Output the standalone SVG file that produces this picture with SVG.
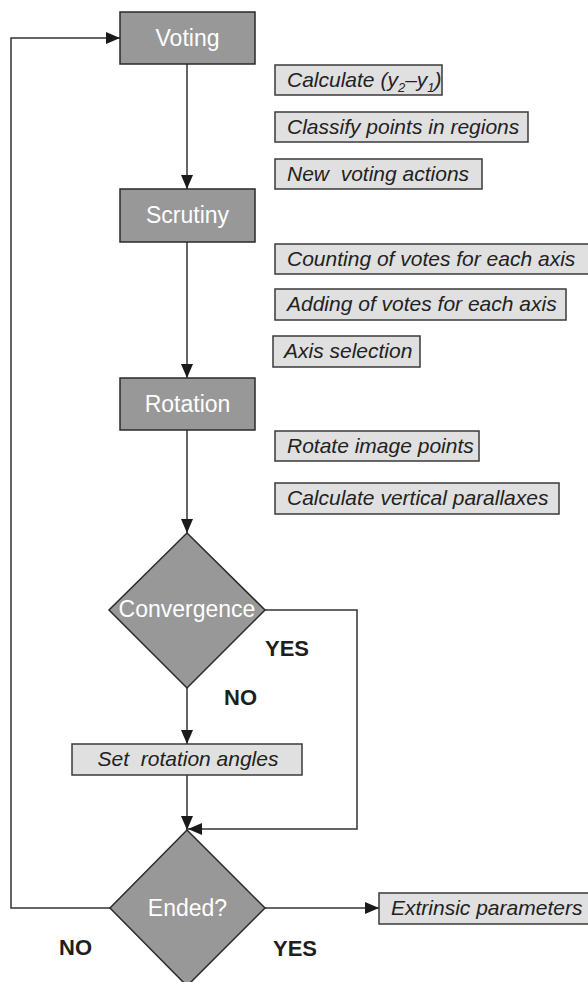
<svg xmlns="http://www.w3.org/2000/svg" width="588" height="982" viewBox="0 0 588 982">
<style>
.step{fill:#989898;stroke:#2a2a2a;stroke-width:1.5}
.stxt{font-family:"Liberation Sans",Arial,sans-serif;font-size:23px;fill:#ffffff;text-anchor:middle}
.lbl{fill:#e0e0e0;stroke:#3a3a3a;stroke-width:1.5}
.ltxt{font-family:"Liberation Sans",Arial,sans-serif;font-size:21px;font-style:italic;fill:#222222}
.yn{font-family:"Liberation Sans",Arial,sans-serif;font-size:22px;font-weight:bold;fill:#1e1e1e}
.con{fill:none;stroke:#333333;stroke-width:1.5}
</style>
<defs>
<marker id="arr" markerUnits="userSpaceOnUse" markerWidth="14" markerHeight="12" refX="14" refY="6" orient="auto">
<path d="M0,0 L14,6 L0,12 Z" fill="#1a1a1a"/>
</marker>
</defs>
<rect width="588" height="982" fill="#ffffff"/>
<g id="connectors">
<path class="con" d="M187,64 V189" marker-end="url(#arr)"/>
<path class="con" d="M187,242 V378" marker-end="url(#arr)"/>
<path class="con" d="M187,430 V533" marker-end="url(#arr)"/>
<path class="con" d="M187,688 V744" marker-end="url(#arr)"/>
<path class="con" d="M187,775 V830" marker-end="url(#arr)"/>
<path class="con" d="M265,610 H357 V829 H188" marker-end="url(#arr)"/>
<path class="con" d="M110,908 H11 V38 H120" marker-end="url(#arr)"/>
<path class="con" d="M265,908 H379" marker-end="url(#arr)"/>
</g>
<g id="voting"><rect class="step" x="120" y="12" width="135" height="52"/><text class="stxt" x="187.5" y="46">Voting</text></g>
<g id="scrutiny"><rect class="step" x="120" y="189" width="135" height="53"/><text class="stxt" x="187.5" y="223">Scrutiny</text></g>
<g id="rotation"><rect class="step" x="120" y="378" width="135" height="52"/><text class="stxt" x="187.5" y="412">Rotation</text></g>
<g id="convergence"><path class="step" d="M187,533 L265,610 L187,688 L109,610 Z"/><text class="stxt" x="187" y="617">Convergence</text></g>
<g id="ended"><path class="step" d="M187,830 L265,908 L187,986 L110,908 Z"/><text class="stxt" x="187.5" y="916">Ended?</text></g>
<g id="calc"><rect class="lbl" x="275" y="65" width="167" height="30"/><text class="ltxt" x="287" y="87">Calculate (y<tspan font-size="13" dy="5">2</tspan><tspan dy="-5">–y</tspan><tspan font-size="13" dy="5">1</tspan><tspan dy="-5">)</tspan></text></g>
<g id="classify"><rect class="lbl" x="275" y="112" width="253" height="30"/><text class="ltxt" x="287" y="134">Classify points in regions</text></g>
<g id="newvoting"><rect class="lbl" x="275" y="159" width="207" height="30"/><text class="ltxt" x="287" y="181" xml:space="preserve">New  voting actions</text></g>
<g id="counting"><rect class="lbl" x="275" y="244" width="316" height="30"/><text class="ltxt" x="287" y="266">Counting of votes for each axis</text></g>
<g id="adding"><rect class="lbl" x="275" y="289" width="291" height="31"/><text class="ltxt" x="287" y="311">Adding of votes for each axis</text></g>
<g id="axissel"><rect class="lbl" x="273" y="336" width="147" height="31"/><text class="ltxt" x="284" y="358">Axis selection</text></g>
<g id="rotatepts"><rect class="lbl" x="275" y="431" width="204" height="30"/><text class="ltxt" x="287" y="453">Rotate image points</text></g>
<g id="vertpar"><rect class="lbl" x="275" y="483" width="284" height="31"/><text class="ltxt" x="287" y="505">Calculate vertical parallaxes</text></g>
<g id="setangles"><rect class="lbl" x="72" y="744" width="230" height="31"/><text class="ltxt" x="188" y="766" text-anchor="middle" xml:space="preserve">Set  rotation angles</text></g>
<g id="extrinsic"><rect class="lbl" x="379" y="893" width="212" height="31"/><text class="ltxt" x="391" y="915">Extrinsic parameters</text></g>
<g id="labels">
<text class="yn" x="265" y="656">YES</text>
<text class="yn" x="224" y="705">NO</text>
<text class="yn" x="59" y="955">NO</text>
<text class="yn" x="273" y="956">YES</text>
</g>
</svg>
